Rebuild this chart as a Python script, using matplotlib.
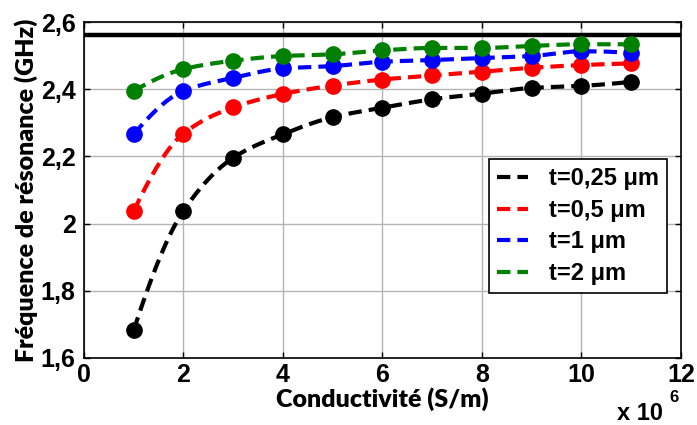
import numpy as np
import matplotlib
matplotlib.use("Agg")
import matplotlib.pyplot as plt
from matplotlib.ticker import FixedLocator

# conductivity (x 10^6 S/m)
sigma = [1, 2, 3, 4, 5, 6, 7, 8, 9, 10, 11]

# resonance frequency (GHz)
f_025 = [1.683, 2.038, 2.196, 2.266, 2.317, 2.345, 2.370, 2.387, 2.404, 2.410, 2.422]
f_05 = [2.038, 2.268, 2.346, 2.386, 2.411, 2.429, 2.441, 2.452, 2.464, 2.472, 2.477]
f_1 = [2.266, 2.395, 2.434, 2.462, 2.469, 2.482, 2.487, 2.493, 2.499, 2.513, 2.507]
f_2 = [2.395, 2.460, 2.485, 2.499, 2.504, 2.516, 2.523, 2.523, 2.529, 2.534, 2.534]
f_ref = 2.563

labels = ["t=0,25 μm", "t=0,5 μm", "t=1 μm", "t=2 μm"]
colors = ["black", "red", "blue", "green"]
xticks = [0, 2, 4, 6, 8, 10, 12]
yticks = [1.6, 1.8, 2.0, 2.2, 2.4, 2.6]
ytick_labels = ["1,6", "1,8", "2", "2,2", "2,4", "2,6"]


def smooth(x, y, n=200):
    # shape-preserving cubic hermite curve through the measured points
    x = np.asarray(x, float)
    y = np.asarray(y, float)
    h = np.diff(x)
    d = np.diff(y) / h
    m = np.zeros_like(y)
    for k in range(1, len(x) - 1):
        if d[k - 1] * d[k] > 0:
            w1 = 2 * h[k] + h[k - 1]
            w2 = h[k] + 2 * h[k - 1]
            m[k] = (w1 + w2) / (w1 / d[k - 1] + w2 / d[k])
    m[0] = ((2 * h[0] + h[1]) * d[0] - h[0] * d[1]) / (h[0] + h[1])
    if m[0] * d[0] <= 0:
        m[0] = 0
    m[-1] = ((2 * h[-1] + h[-2]) * d[-1] - h[-1] * d[-2]) / (h[-1] + h[-2])
    if m[-1] * d[-1] <= 0:
        m[-1] = 0
    xs = np.linspace(x[0], x[-1], n)
    idx = np.clip(np.searchsorted(x, xs) - 1, 0, len(x) - 2)
    t = (xs - x[idx]) / h[idx]
    h00 = 2 * t**3 - 3 * t**2 + 1
    h10 = t**3 - 2 * t**2 + t
    h01 = -2 * t**3 + 3 * t**2
    h11 = t**3 - t**2
    ys = h00 * y[idx] + h10 * h[idx] * m[idx] + h01 * y[idx + 1] + h11 * h[idx] * m[idx + 1]
    return xs, ys


fig = plt.figure(figsize=(6.97, 4.25), dpi=100)
ax = fig.add_axes([0.1205, 0.158, 0.8565, 0.79])

ax.axhline(f_ref, color="black", lw=3.2, zorder=4)

series = [f_025, f_05, f_1, f_2]
for vals, lab, c in zip(series, labels, colors):
    xs, ys = smooth(sigma, vals)
    ax.plot(xs, ys, color=c, lw=3, linestyle=(0, (3.2, 1.7)), label=lab, zorder=3)
    ax.plot(sigma, vals, "o", color=c, markersize=11, zorder=5)

ax.set_xlim(0, 12)
ax.set_ylim(1.6, 2.6)
ax.xaxis.set_major_locator(FixedLocator(xticks))
ax.yaxis.set_major_locator(FixedLocator(yticks))
ax.set_yticklabels(ytick_labels)
ax.set_xticklabels([str(v) for v in xticks])
ax.tick_params(direction="in", top=True, right=True, length=4, width=1, pad=6)
ax.tick_params(axis="x", pad=4)
for lab in ax.get_xticklabels() + ax.get_yticklabels():
    lab.set_fontfamily("Liberation Sans")
    lab.set_fontweight("bold")
    lab.set_fontsize(18)
ax.grid(True, color="#b4b4b4", lw=1)
ax.set_axisbelow(True)
for sp in ax.spines.values():
    sp.set_linewidth(1.2)

ax.set_xlabel("Conductivité (S/m)", fontfamily="Lato", fontweight="heavy", fontsize=18, labelpad=0)
ax.set_ylabel("Fréquence de résonance (GHz)", fontfamily="Lato", fontweight="heavy", fontsize=18, labelpad=2)

fig.text(663 / 697, 1 - 413 / 425, "x 10", ha="right", va="center",
         fontfamily="Liberation Sans", fontweight="bold", fontsize=17)
fig.text(669 / 697, 1 - 397 / 425, "6", ha="left", va="center",
         fontfamily="Liberation Sans", fontweight="bold", fontsize=12)

leg = ax.legend(loc="upper left", bbox_to_anchor=(489 / 697, 1 - 159 / 425),
                bbox_transform=fig.transFigure, fancybox=False, framealpha=1,
                edgecolor="black", handlelength=1.3, handletextpad=0.9,
                borderaxespad=0, labelspacing=0.36, borderpad=0.35,
                prop={"family": "Liberation Sans", "weight": "bold", "size": 17})
leg.get_frame().set_linewidth(1.2)

fig.savefig("out.png", dpi=100)
